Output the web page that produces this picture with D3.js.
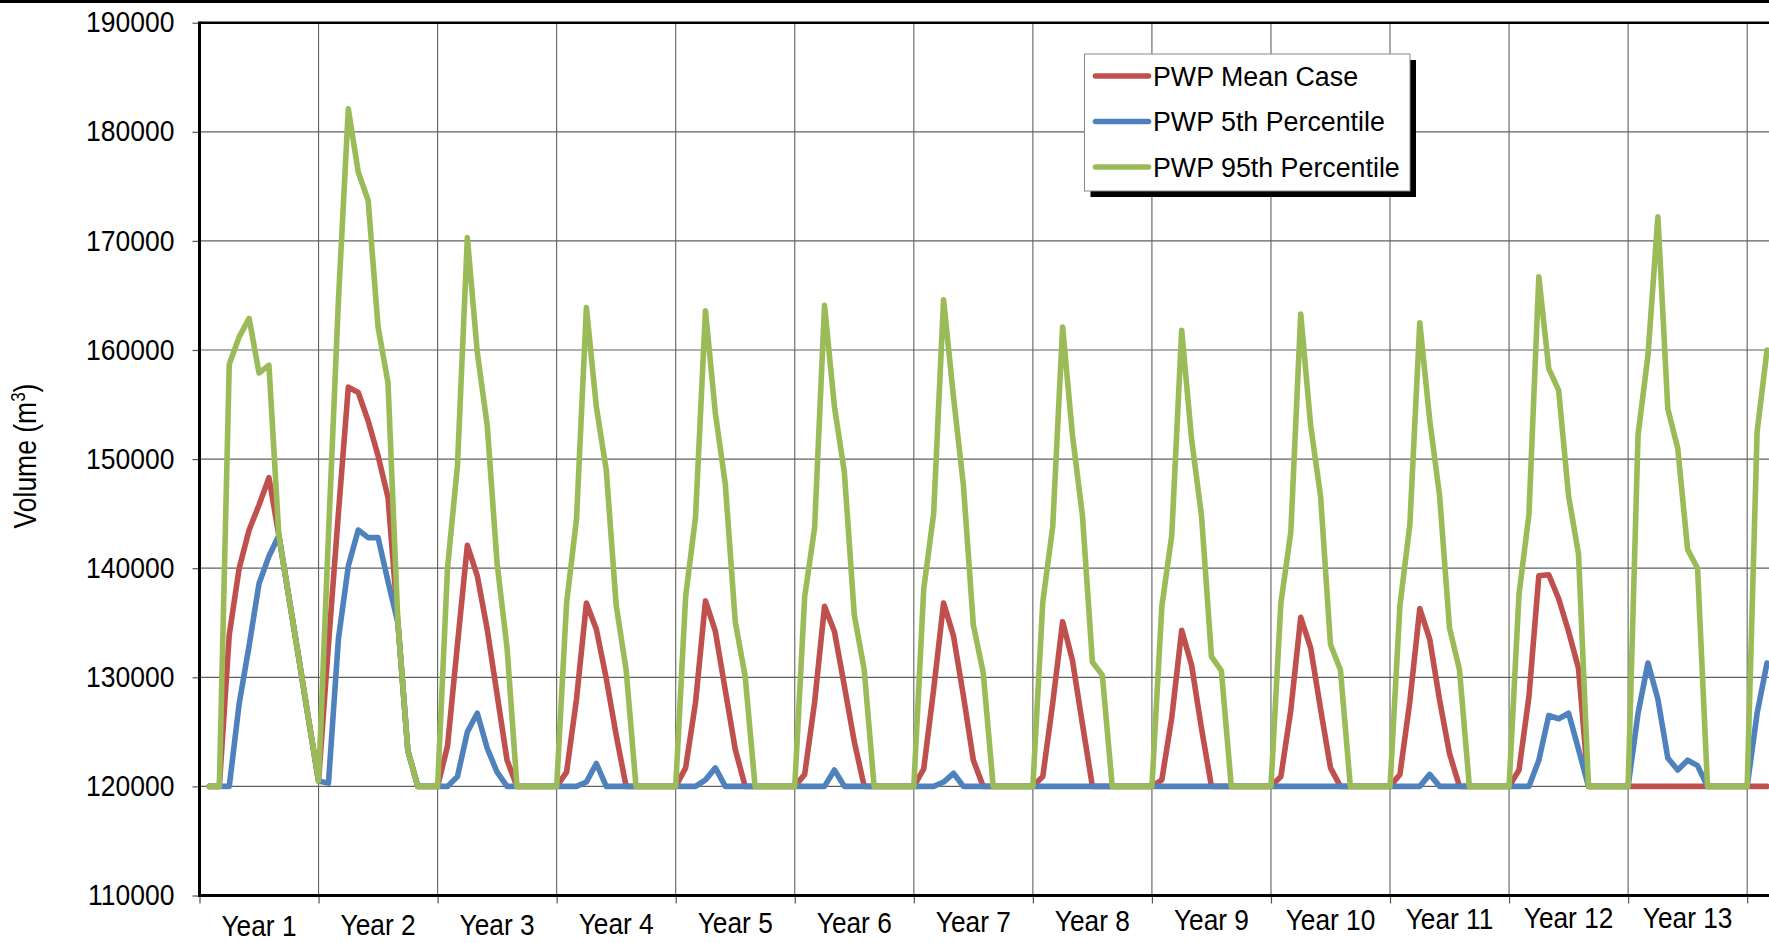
<!DOCTYPE html>
<html><head><meta charset="utf-8">
<script src="https://cdn.jsdelivr.net/npm/d3@7"></script>
<style>
html,body{margin:0;padding:0;background:#fff;overflow:hidden}
text{font-family:"Liberation Sans",Arial,sans-serif}
</style>
</head><body>
<svg id="c" width="1769" height="943"></svg>
<script>
// ---------------- DATA ----------------
const years = ["Year 1","Year 2","Year 3","Year 4","Year 5","Year 6","Year 7","Year 8","Year 9","Year 10","Year 11","Year 12","Year 13"];
const yTicks = [110000,120000,130000,140000,150000,160000,170000,180000,190000];
const seriesNames = ["PWP Mean Case","PWP 5th Percentile","PWP 95th Percentile"];
const seriesColors = ["#C0504D","#4F81BD","#9BBB59"];

// monthly values (12 per year, Year 14 partially visible)
const meanCase = [
 120000,120000,133900,140000,143500,145800,148300,143000,137400,131800,126100,120500,
 133000,145000,156600,156100,153500,150300,146500,135000,123300,120000,120000,120000,
 123700,133000,142100,139300,134400,128400,122400,120000,120000,120000,120000,120000,
 121300,128000,136800,134400,129900,124700,120000,120000,120000,120000,120000,120000,
 121700,127700,137000,134200,128800,123400,120000,120000,120000,120000,120000,120000,
 121100,127700,136500,134200,129200,124100,120000,120000,120000,120000,120000,120000,
 121600,128900,136800,133800,128300,122400,120000,120000,120000,120000,120000,120000,
 120900,127600,135100,131500,125700,120000,120000,120000,120000,120000,120000,120000,
 120600,126300,134300,131100,125300,120000,120000,120000,120000,120000,120000,120000,
 120900,127000,135500,132700,127100,121700,120000,120000,120000,120000,120000,120000,
 121100,127800,136300,133500,127900,123000,120000,120000,120000,120000,120000,120000,
 121500,128200,139300,139400,137200,134200,130800,120000,120000,120000,120000,120000,
 120000,120000,120000,120000,120000,120000,120000,120000,120000,120000,120000,120000,
 120000,120000
];
const pct5 = [
 120000,120000,120000,127600,132900,138600,141100,143000,137400,131800,126100,120500,
 120300,133500,140200,143500,142800,142800,138800,135000,123300,120000,120000,120000,
 120000,120900,125000,126700,123500,121300,120000,120000,120000,120000,120000,120000,
 120000,120000,120400,122100,120000,120000,120000,120000,120000,120000,120000,120000,
 120000,120000,120600,121700,120000,120000,120000,120000,120000,120000,120000,120000,
 120000,120000,120000,121500,120000,120000,120000,120000,120000,120000,120000,120000,
 120000,120000,120400,121200,120000,120000,120000,120000,120000,120000,120000,120000,
 120000,120000,120000,120000,120000,120000,120000,120000,120000,120000,120000,120000,
 120000,120000,120000,120000,120000,120000,120000,120000,120000,120000,120000,120000,
 120000,120000,120000,120000,120000,120000,120000,120000,120000,120000,120000,120000,
 120000,120000,120000,121100,120000,120000,120000,120000,120000,120000,120000,120000,
 120000,120000,122400,126500,126200,126700,123400,120000,120000,120000,120000,120000,
 126700,131300,128000,122600,121500,122400,121900,120000,120000,120000,120000,120000,
 126700,131300
];
const pct95 = [
 120000,120000,158700,161200,162900,157900,158600,143000,137400,131800,126100,120500,
 143000,164500,182100,176300,173700,162100,157000,135000,123300,120000,120000,120000,
 140000,149400,170300,159800,153100,140400,132700,120000,120000,120000,120000,120000,
 136800,144500,163900,154800,149000,136600,130700,120000,120000,120000,120000,120000,
 137400,144700,163600,154200,147700,135100,130100,120000,120000,120000,120000,120000,
 137400,143700,164100,154800,148800,135700,130700,120000,120000,120000,120000,120000,
 138100,145000,164600,155700,147600,134800,130400,120000,120000,120000,120000,120000,
 136900,143800,162100,152100,144800,131400,130200,120000,120000,120000,120000,120000,
 136500,143000,161800,151800,144800,131900,130600,120000,120000,120000,120000,120000,
 136800,143300,163300,153100,146600,133000,130700,120000,120000,120000,120000,120000,
 136600,144000,162500,153600,146600,134500,130700,120000,120000,120000,120000,120000,
 137600,144900,166700,158300,156300,146600,141300,120000,120000,120000,120000,120000,
 152200,159500,172200,154600,151000,141700,140000,120000,120000,120000,120000,120000,
 152500,160000
];

(function () {
// ---------------- LAYOUT ----------------
const W = 1769, H = 943;
const plotLeft = 199.5, plotTop = 22.7, plotBottom = 895.5, monthW = 9.921;
const monthsPerYear = 12;
const svg = d3.select("#c");

const x = d3.scaleLinear().domain([0, years.length * monthsPerYear])
  .range([plotLeft, plotLeft + years.length * monthsPerYear * monthW]);
const y = d3.scaleLinear().domain([yTicks[0], yTicks[yTicks.length - 1]]).range([plotBottom, plotTop]);

svg.append("rect").attr("width", W).attr("height", H).attr("fill", "#fff");
// page rule at very top
svg.append("rect").attr("x", 0).attr("y", 0).attr("width", W).attr("height", 3).attr("fill", "#000");

// horizontal gridlines
svg.append("g").selectAll("line")
  .data(yTicks.slice(1, -1)).join("line")
  .attr("x1", plotLeft).attr("x2", W)
  .attr("y1", d => y(d)).attr("y2", d => y(d))
  .attr("stroke", "#606060").attr("stroke-width", 1.2);

// vertical gridlines at year boundaries
const boundaries = d3.range(0, years.length * monthsPerYear + 1, monthsPerYear);
svg.append("g").selectAll("line")
  .data(boundaries.slice(1)).join("line")
  .attr("x1", d => x(d)).attr("x2", d => x(d))
  .attr("y1", plotTop).attr("y2", plotBottom)
  .attr("stroke", "#606060").attr("stroke-width", 1.1);

// y axis
const yAxis = svg.append("g").attr("transform", `translate(${plotLeft},0)`)
  .call(d3.axisLeft(y).tickValues(yTicks).tickSize(7).tickPadding(18).tickFormat(d3.format("d")));
yAxis.select(".domain").remove();
yAxis.selectAll(".tick line").attr("stroke", "#555").attr("stroke-width", 1.2);
yAxis.selectAll(".tick text").attr("font-size", 26.5).attr("fill", "#000")
  .attr("font-family", "'Liberation Sans', Arial, sans-serif")
  .attr("transform", "scale(1,1.08)");

// x axis ticks
const xAxis = svg.append("g").attr("transform", `translate(0,${plotBottom})`)
  .call(d3.axisBottom(x).tickValues(boundaries).tickSize(8).tickFormat(""));
xAxis.select(".domain").remove();
xAxis.selectAll(".tick line").attr("stroke", "#555").attr("stroke-width", 1.2);

// x labels
svg.append("g").selectAll("text")
  .data(years).join("text")
  .attr("transform", (d, i) => `translate(${x((i + 0.5) * monthsPerYear)},${936 - 0.7 * i}) scale(1,1.15)`)
  .attr("text-anchor", "middle").attr("font-size", 26.3).attr("fill", "#000")
  .text(d => d);

// plot frame lines
svg.append("line").attr("x1", plotLeft).attr("x2", W).attr("y1", plotTop).attr("y2", plotTop)
  .attr("stroke", "#000").attr("stroke-width", 2.6);
svg.append("line").attr("x1", plotLeft - 1).attr("x2", W).attr("y1", plotBottom).attr("y2", plotBottom)
  .attr("stroke", "#000").attr("stroke-width", 3);
svg.append("line").attr("x1", plotLeft).attr("x2", plotLeft).attr("y1", plotTop - 1.3).attr("y2", plotBottom + 1.5)
  .attr("stroke", "#000").attr("stroke-width", 3);

// series lines
const line = d3.line().x((d, i) => x(i + 1)).y(d => y(d));
const series = [meanCase, pct5, pct95];
svg.append("g").selectAll("path")
  .data(series).join("path")
  .attr("d", d => line(d))
  .attr("fill", "none")
  .attr("stroke", (d, i) => seriesColors[i])
  .attr("stroke-width", 5.6)
  .attr("stroke-linejoin", "round")
  .attr("stroke-linecap", "round");

// y title
const yt = svg.append("text")
  .attr("transform", "translate(36,456) rotate(-90) scale(1,1.15)")
  .attr("text-anchor", "middle").attr("font-size", 26.5).attr("fill", "#000");
yt.append("tspan").text("Volume (m");
yt.append("tspan").attr("font-size", 17).attr("dy", -10).text("3");
yt.append("tspan").attr("dy", 10).text(")");

// legend
const lg = svg.append("g").attr("transform", "translate(1084.5,54)");
const lgW = 325.5, lgH = 137;
lg.append("rect").attr("x", 6).attr("y", 6).attr("width", lgW).attr("height", lgH).attr("fill", "#000");
lg.append("rect").attr("width", lgW).attr("height", lgH).attr("fill", "#fff")
  .attr("stroke", "#8a8a8a").attr("stroke-width", 1);
const rows = lg.selectAll("g.row").data(seriesNames).join("g")
  .attr("class", "row")
  .attr("transform", (d, i) => `translate(0,${22 + i * 45.5})`);
rows.append("line").attr("x1", 11).attr("x2", 64).attr("y1", 0).attr("y2", 0)
  .attr("stroke", (d, i) => seriesColors[i]).attr("stroke-width", 5.6).attr("stroke-linecap", "round");
rows.append("text").attr("x", 68.5).attr("y", 0).attr("dy", "0.36em")
  .attr("font-size", 26.8).attr("fill", "#000").text(d => d);
})();
</script>
</body></html>
